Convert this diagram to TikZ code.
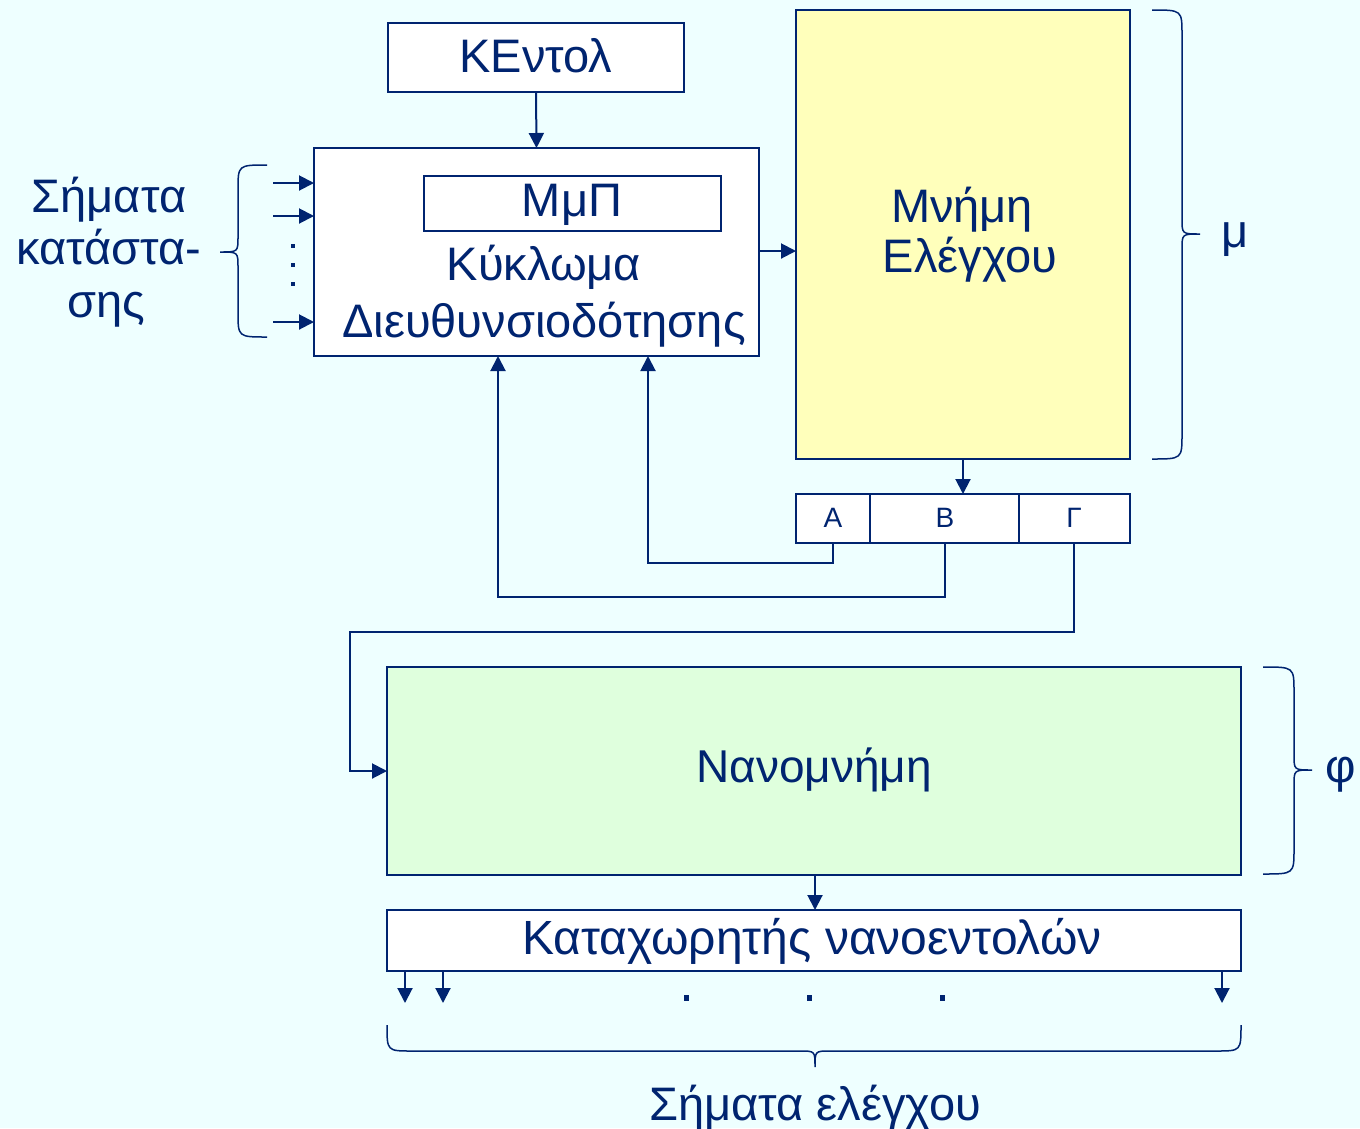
\documentclass[tikz,border=0pt]{standalone}
\usepackage{fontspec}
\setmainfont{Liberation Sans}
\usetikzlibrary{arrows.meta,calc}
\definecolor{bg}{RGB}{238,255,255}
\definecolor{ink}{RGB}{0,36,112}
\definecolor{memfill}{RGB}{255,255,187}
\definecolor{nanofill}{RGB}{223,255,221}

\begin{document}
\begin{tikzpicture}[x=1pt,y=-1pt,
  box/.style={draw=ink,line width=2pt,fill=white,inner sep=0pt,outer sep=0pt,anchor=north west},
  lbl/.style={text=ink,font=\fontsize{47}{50}\selectfont,inner sep=0pt,anchor=base},
  small/.style={text=ink,font=\fontsize{28}{30}\selectfont,inner sep=0pt,anchor=base},
  wire/.style={draw=ink,line width=2pt},
  arr/.style={wire,-{Triangle[length=15pt,width=15pt]}},
  brace/.style={draw=ink,line width=1.5pt}]

% canvas
\useasboundingbox (0,0) rectangle (1360,1128);
\fill[bg] (0,0) rectangle (1360,1128);

% boxes
\node[box,minimum width=296pt,minimum height=69pt] (kentol) at (388,23) {};
\node[box,minimum width=445pt,minimum height=208pt] (circuit) at (314,148) {};
\node[box,minimum width=297pt,minimum height=55pt] (mmp) at (424,176) {};
\node[box,fill=memfill,minimum width=334pt,minimum height=449pt] (mem) at (796,10) {};
\node[box,minimum width=74pt,minimum height=49pt] (regA) at (796,494) {};
\node[box,minimum width=149pt,minimum height=49pt] (regB) at (870,494) {};
\node[box,minimum width=111pt,minimum height=49pt] (regG) at (1019,494) {};
\node[box,fill=nanofill,minimum width=854pt,minimum height=208pt] (nano) at (387,667) {};
\node[box,minimum width=854pt,minimum height=61pt] (nreg) at (387,910) {};

% texts
\node[lbl] (tkentol) at (536,72) {ΚΕντολ};
\node[lbl] (tmmp) at (572,216) {ΜμΠ};
\node[lbl] (tcirc1) at (544,280) {Κύκλωμα};
\node[lbl] (tcirc2) at (544,337) {Διευθυνσιοδότησης};
\node[lbl] (tmem1) at (962,222) {Μνήμη};
\node[lbl] (tmem2) at (970,272) {Ελέγχου};
\node[small] (tA) at (833,527) {Α};
\node[small] (tB) at (945,527) {Β};
\node[small] (tG) at (1074,527) {Γ};
\node[lbl,font=\fontsize{46}{50}\selectfont] (tnano) at (814,782) {Νανομνήμη};
\node[lbl,font=\fontsize{48}{50}\selectfont] (tnreg) at (812,954) {Καταχωρητής νανοεντολών};
\node[lbl] (tout) at (815,1120) {Σήματα ελέγχου};
\node[lbl] (tst1) at (109,212) {Σήματα};
\node[lbl] (tst2) at (109,264) {κατάστα-};
\node[lbl] (tst3) at (106,317) {σης};
\node[lbl] (tmu) at (1235,247) {μ};
\node[lbl] (tphi) at (1341,782) {φ};

% helper coordinates
\coordinate (yCM) at (0,251);
\coordinate (xA) at (833,0);
\coordinate (xB) at (945,0);
\coordinate (xG) at (1074,0);
\coordinate (yA) at (0,563);
\coordinate (yB) at (0,597);
\coordinate (yG) at (0,632);
\coordinate (inA) at (648,356);
\coordinate (inB) at (498,356);
\coordinate (xL) at (350,0);
\coordinate (yN) at (0,771);
\coordinate (xM) at (963,0);
\coordinate (xNR) at (815,0);

% main connectors
\draw[arr] (kentol.south) -- (circuit.north);
\draw[arr] (circuit.east |- yCM) -- (mem.west |- yCM);
\draw[arr] (mem.south -| xM) -- (regB.north -| xM);
\draw[arr] (regA.south -| xA) |- (yA -| inA) -- (inA);
\draw[arr] (regB.south -| xB) |- (yB -| inB) -- (inB);
\draw[arr] (regG.south -| xG) |- (yG -| xL) |- (nano.west |- yN);
\draw[arr] (nano.south -| xNR) -- (nreg.north -| xNR);

% status inputs
\coordinate (s1) at (273,183);
\coordinate (s2) at (273,216);
\coordinate (s3) at (273,322);
\draw[arr] (s1) -- (circuit.west |- s1);
\draw[arr] (s2) -- (circuit.west |- s2);
\draw[arr] (s3) -- (circuit.west |- s3);
\foreach \y in {246,265,284} \fill[ink] (291,\y-2) rectangle (295,\y+2);

% control outputs
\coordinate (o1) at (405,1003);
\coordinate (o2) at (443,1003);
\coordinate (o3) at (1222,1003);
\draw[arr] (nreg.south -| o1) -- (o1);
\draw[arr] (nreg.south -| o2) -- (o2);
\draw[arr] (nreg.south -| o3) -- (o3);
\foreach \x in {686,809,942} \fill[ink] (\x-2,995) rectangle (\x+3,1001);

% braces
\draw[brace] (1152,10) .. controls (1182,10) .. (1182,35) -- (1182,219)
  .. controls (1182,234) .. (1200,234) .. controls (1182,234) .. (1182,249)
  -- (1182,434) .. controls (1182,459) .. (1152,459);
\draw[brace] (1263,667) .. controls (1294,667) .. (1294,692) -- (1294,755)
  .. controls (1294,770) .. (1312,770) .. controls (1294,770) .. (1294,785)
  -- (1294,849) .. controls (1294,874) .. (1263,874);
\draw[brace] (267,165) .. controls (238,165) .. (238,190) -- (238,237)
  .. controls (238,252) .. (220,252) .. controls (238,252) .. (238,267)
  -- (238,312) .. controls (238,337) .. (267,337);
\draw[brace] (387,1025) .. controls (387,1051) .. (412,1051) -- (800,1051)
  .. controls (815,1051) .. (815,1067) .. controls (815,1051) .. (830,1051)
  -- (1216,1051) .. controls (1241,1051) .. (1241,1025);
\end{tikzpicture}
\end{document}
